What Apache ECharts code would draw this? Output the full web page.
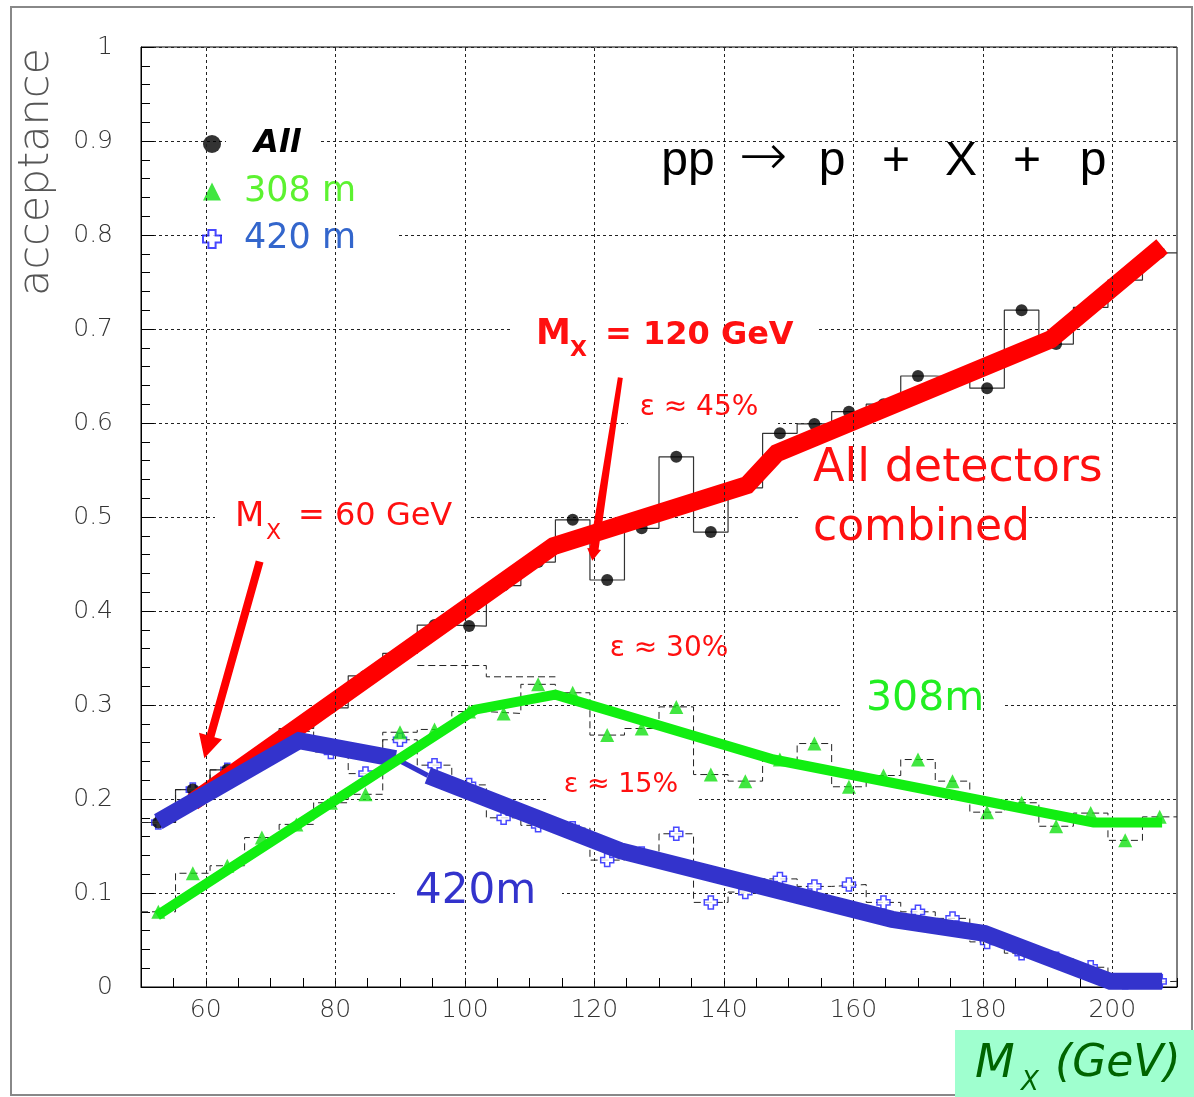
<!DOCTYPE html>
<html><head><meta charset="utf-8">
<script src="https://cdn.jsdelivr.net/npm/echarts@6/dist/echarts.min.js"></script>
<style>html,body{margin:0;padding:0;background:#fff}#c{width:1194px;height:1097px}</style>
</head><body><div id="c"></div>
<script>
// ---- data ----
const binCenters = [52.67,58,63.33,68.67,74,79.33,84.67,90,95.33,100.67,106,111.33,116.67,122,127.33,132.67,138,143.33,148.67,154,159.33,164.67,170,175.33,180.67,186,191.33,196.67,202,207.33];
const accAll = [0.175,0.210,0.231,0.243,0.275,0.297,0.331,0.355,0.385,0.384,0.427,0.452,0.497,0.433,0.488,0.564,0.484,0.531,0.589,0.599,0.612,0.620,0.650,0.648,0.637,0.720,0.684,0.723,0.752,0.781];
const acc308 = [0.080,0.121,0.129,0.159,0.173,0.196,0.205,0.271,0.274,0.293,0.291,0.322,0.313,0.268,0.275,0.298,0.226,0.219,0.242,0.259,0.213,0.225,0.242,0.219,0.186,0.196,0.171,0.185,0.156,0.181];
const acc420 = [0.175,0.210,0.231,0.243,0.272,0.250,0.227,0.263,0.236,0.215,0.180,0.172,0.169,0.135,0.142,0.163,0.090,0.101,0.115,0.107,0.109,0.090,0.080,0.073,0.048,0.036,0.030,0.021,0.005,0.006];
const extraHistEdges = [92.67,103.33,114];
const extraHistVals = [0.342,0.330];
// hand-drawn trend lines
const fitAllX = [58,113.7,143.6,148.2,190.5,207.7];
const fitAllY = [0.197,0.469,0.534,0.568,0.689,0.788];
const fit308X = [52.5,101.6,114,147.7,197.1,207.7];
const fit308Y = [0.076,0.295,0.311,0.242,0.175,0.175];
const fit420aX = [52.67,74.4,89.3];
const fit420aY = [0.176,0.262,0.243];
const fit420thinX = [89.3,94.3];
const fit420thinY = [0.243,0.225];
const fit420bX = [94.3,124,166,180.3,199.7,207.7];
const fit420bY = [0.225,0.145,0.072,0.057,0.006,0.006];
const xTickLabels = [60,80,100,120,140,160,180,200];
// annotation arrows (data coordinates)
const arrow60 = {tail:[68.32,0.4527], tip:[59.78,0.2434]};
const arrow120 = {tail:[124.03,0.6482], tip:[119.70,0.4534]};

const pairs = (xs, ys) => xs.map((x,i)=>[x, ys[i]]);
const halfW = (binCenters[1]-binCenters[0])/2;
function histPts(vals){ const p=[]; vals.forEach((v,i)=>{p.push([binCenters[i]-halfW,v]);p.push([binCenters[i]+halfW,v]);}); return p; }
function histEdgePts(edges, vals){ const p=[]; vals.forEach((v,i)=>{p.push([edges[i],v]);p.push([edges[i+1],v]);}); return p; }

const crossPath = 'path://M3,0 L7,0 L7,3 L10,3 L10,7 L7,7 L7,10 L3,10 L3,7 L0,7 L0,3 L3,3 Z';
const lblFont = 'DejaVu Sans';

const chart = echarts.init(document.getElementById('c'), null, {renderer:'canvas'});
const option = {
  animation:false,
  backgroundColor:'#fff',
  grid:{left:141, right:17, top:47, bottom:110, show:true, borderColor:'#000', borderWidth:1, backgroundColor:'transparent', outerBoundsMode:'none'},
  xAxis:{type:'value', min:50, max:210, interval:5,
    axisLine:{show:true, lineStyle:{color:'#000', width:1}},
    axisTick:{show:true, inside:true, length:9, lineStyle:{color:'#000'}},
    axisLabel:{margin:11, fontSize:25, color:'#333', fontFamily:lblFont, fontWeight:200,
      formatter:v=>{const r=Math.round(v); return (Math.abs(v-r)<1e-6 && xTickLabels.includes(r)) ? String(r) : '';}},
    splitLine:{show:false}},
  yAxis:{type:'value', min:0, max:1, interval:0.1,
    axisLine:{show:true, lineStyle:{color:'#000', width:1}},
    axisTick:{show:true, inside:true, length:13, lineStyle:{color:'#000'}},
    minorTick:{show:true, splitNumber:5, length:9, lineStyle:{color:'#000'}},
    axisLabel:{margin:28, fontSize:25, color:'#333', fontFamily:lblFont, fontWeight:200},
    splitLine:{show:true, lineStyle:{color:'#222', width:1, type:[3,3]}}},
  legend:{orient:'vertical', left:197, top:119, itemWidth:18, itemHeight:18, itemGap:7.5, selectedMode:false,
    textStyle:{fontFamily:lblFont, fontSize:35, lineHeight:40},
    data:[
      {name:'All', icon:'circle', textStyle:{fontFamily:lblFont, fontWeight:'bold', fontStyle:'italic', fontSize:32, color:'#000', padding:[0,0,0,28]}},
      {name:'308 m', icon:'triangle', textStyle:{fontFamily:lblFont, fontSize:35, color:'#5cf230', padding:[0,0,0,18]}},
      {name:'420 m', icon:crossPath, textStyle:{fontFamily:lblFont, fontSize:35, color:'#3366cc', padding:[0,0,0,18]}}
    ]},
  series:[
    {name:'xgrid', type:'line', z:0, data:[[50,0]], symbol:'none', lineStyle:{width:0}, silent:true,
      markLine:{silent:true, symbol:['none','none'], label:{show:false}, animation:false,
        lineStyle:{color:'#222', width:1, type:[3,3]},
        data:xTickLabels.map(v=>({xAxis:v}))}},
    {name:'histAll', type:'line', z:2, data:histPts(accAll), symbol:'none', lineStyle:{color:'#333', width:1.2}},
    {name:'hist308', type:'line', z:2, data:histPts(acc308), symbol:'none', lineStyle:{color:'#222', width:1, type:[7,4]}},
    {name:'hist420', type:'line', z:2, data:histPts(acc420), symbol:'none', lineStyle:{color:'#222', width:1, type:[7,4]}},
    {name:'histExtra', type:'line', z:2, data:histEdgePts(extraHistEdges, extraHistVals), symbol:'none', lineStyle:{color:'#222', width:1, type:[7,4]}},
    {name:'420 m', type:'scatter', z:3, data:pairs(binCenters, acc420), symbol:crossPath, symbolSize:13,
      itemStyle:{color:'#fff', borderColor:'#1a1aff', borderWidth:1.5}},
    {name:'308 m', type:'scatter', z:3, data:pairs(binCenters, acc308), symbol:'triangle', symbolSize:14,
      itemStyle:{color:'#11e011'}},
    {name:'All', type:'scatter', z:3, data:pairs(binCenters, accAll), symbol:'circle', symbolSize:12,
      itemStyle:{color:'#000'}},
    {name:'fitAll', type:'line', z:4, data:pairs(fitAllX, fitAllY), symbol:'none', lineStyle:{color:'#ff0000', width:18, cap:'butt', join:'miter'}},
    {name:'fit420a', type:'line', z:5, data:pairs(fit420aX, fit420aY), symbol:'none', lineStyle:{color:'#3333cc', width:17, cap:'butt', join:'miter'}},
    {name:'fit420thin', type:'line', z:5, data:pairs(fit420thinX, fit420thinY), symbol:'none', lineStyle:{color:'#3333cc', width:5, cap:'butt'}},
    {name:'fit420b', type:'line', z:5, data:pairs(fit420bX, fit420bY), symbol:'none', lineStyle:{color:'#3333cc', width:17, cap:'butt', join:'miter'}},
    {name:'fit308', type:'line', z:6, data:pairs(fit308X, fit308Y), symbol:'none', lineStyle:{color:'#11ee11', width:10, cap:'butt', join:'miter'}}
  ]
};
chart.setOption(option);

function arrowPoly(tail, tip, w0, w1, headLen, headHalf){
  const a = chart.convertToPixel({gridIndex:0}, tail), b = chart.convertToPixel({gridIndex:0}, tip);
  const dx=b[0]-a[0], dy=b[1]-a[1], L=Math.hypot(dx,dy), ux=dx/L, uy=dy/L, nx=-uy, ny=ux;
  const bx=b[0]-ux*headLen, by=b[1]-uy*headLen;
  return [[a[0]+nx*w0/2,a[1]+ny*w0/2],[bx+nx*w1/2,by+ny*w1/2],[bx+nx*headHalf,by+ny*headHalf],[b[0],b[1]],
          [bx-nx*headHalf,by-ny*headHalf],[bx-nx*w1/2,by-ny*w1/2],[a[0]-nx*w0/2,a[1]-ny*w0/2]];
}
function T(text, x, y, font, fill, align, extra){
  return Object.assign({type:'text', z:20, silent:true, style:{text, x, y, font, fill, align:align||'left', verticalAlign:'middle', textAlign:align||'left', textVerticalAlign:'middle'}}, extra||{});
}
function W(x,y,w,h){ return {type:'rect', z:1, silent:true, shape:{x,y,width:w,height:h}, style:{fill:'#fff'}}; }

const red='#ff1010', comic='"DejaVu Sans"';
const els = [
  {type:'rect', z:0, silent:true, shape:{x:11,y:7,width:1181,height:1088}, style:{fill:'none', stroke:'#888', lineWidth:2}},
  {type:'rect', z:30, silent:true, shape:{x:955,y:1030,width:239,height:67}, style:{fill:'#9fffcf'}},
  W(226,122,92,38), W(222,216,176,40), W(513,300,304,72), W(628,372,150,68), W(215,485,256,65),
  W(800,436,310,62), W(800,498,222,62), W(600,628,145,44), W(547,765,150,52), W(842,662,163,80), W(395,852,167,80),
  T('acceptance', 0, 0, '200 43px "DejaVu Sans"', '#555', 'center', {x:37, y:172, rotation:Math.PI/2}),
  // title
  T('pp', 688, 162, '48px "Liberation Sans"', '#000', 'center'),
  T('\u2192', 763, 160, '200 58px "DejaVu Sans"', '#000', 'center'),
  T('p', 832, 162, '48px "Liberation Sans"', '#000', 'center'),
  T('+', 896, 162, '48px "Liberation Sans"', '#000', 'center'),
  T('X', 961, 162, '48px "Liberation Sans"', '#000', 'center'),
  T('+', 1027, 162, '48px "Liberation Sans"', '#000', 'center'),
  T('p', 1093, 162, '48px "Liberation Sans"', '#000', 'center'),
  // M_X = 120 GeV
  T('M', 536, 335, 'bold 35px '+comic, red),
  T('X', 570, 350, 'bold 22px '+comic, red),
  T('= 120 GeV', 605, 336, 'bold 32px '+comic, red),
  // M_X = 60 GeV
  T('M', 235, 517, '34px '+comic, red),
  T('X', 266, 533, '22px '+comic, red),
  T('= 60 GeV', 298, 517, '32px '+comic, red),
  T('\u03b5 \u2248 45%', 699, 408, '28px '+comic, red, 'center'),
  T('\u03b5 \u2248 30%', 669, 649, '28px '+comic, red, 'center'),
  T('\u03b5 \u2248 15%', 621, 785, '27px '+comic, red, 'center'),
  T('All detectors', 813, 469, '46px '+comic, red),
  T('combined', 813, 529, '44px '+comic, red),
  T('308m', 866, 699, '41px '+comic, '#22ee22'),
  T('420m', 415, 892, '42px '+comic, '#3333cc'),
  // axis title box
  T('M', 975, 1065, 'italic 46px '+comic, '#006400', 'left', {z:31}),
  T('X', 1021, 1083, 'italic 26px '+comic, '#006400', 'left', {z:31}),
  T('(GeV)', 1055, 1065, 'italic 44px '+comic, '#006400', 'left', {z:31}),
  {type:'polygon', z:25, silent:true, shape:{points:arrowPoly(arrow60.tail, arrow60.tip, 8, 8, 23, 12)}, style:{fill:'#ff0000'}},
  {type:'polygon', z:25, silent:true, shape:{points:arrowPoly(arrow120.tail, arrow120.tip, 5, 9, 12, 7)}, style:{fill:'#ff0000'}}
];
chart.setOption({graphic:{elements:els}});
</script></body></html>
